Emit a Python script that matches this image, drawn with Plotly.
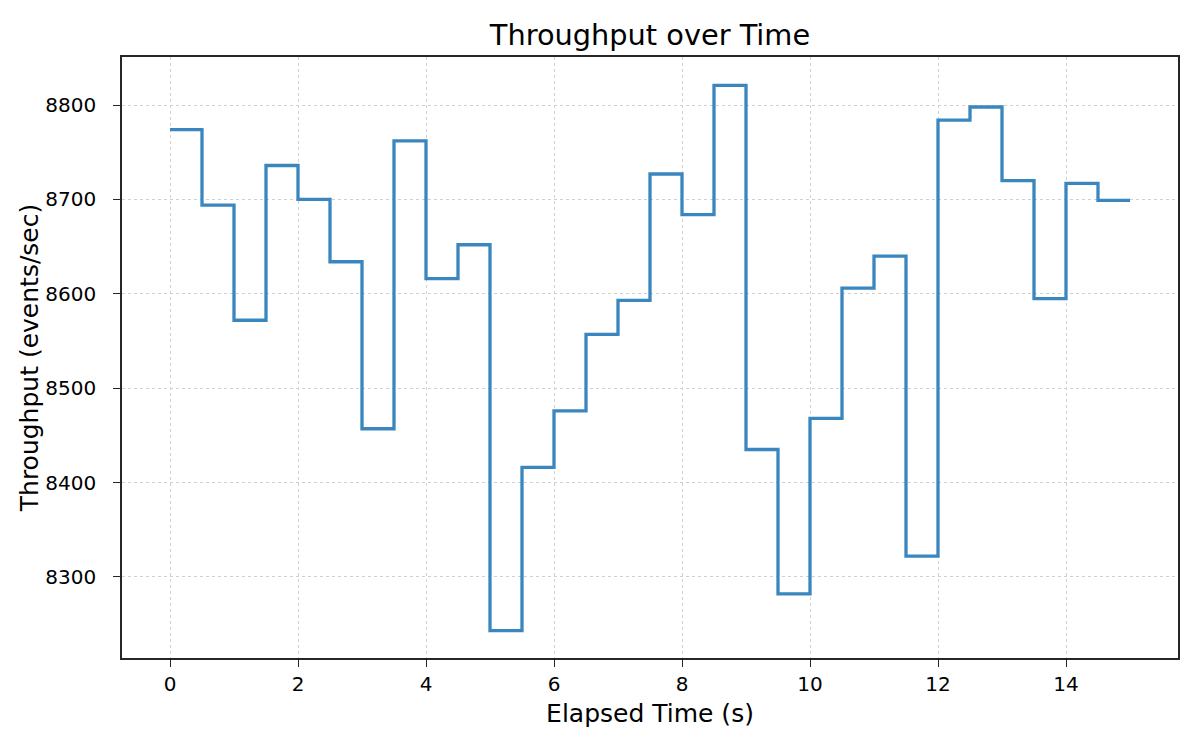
import plotly.graph_objects as go

elapsed_time = [0.0, 0.5, 1.0, 1.5, 2.0, 2.5, 3.0, 3.5, 4.0, 4.5,
                5.0, 5.5, 6.0, 6.5, 7.0, 7.5, 8.0, 8.5, 9.0, 9.5,
                10.0, 10.5, 11.0, 11.5, 12.0, 12.5, 13.0, 13.5, 14.0, 14.5, 15.0]
throughput = [8774, 8694, 8572, 8736, 8700, 8634, 8457, 8762, 8616, 8652,
              8243, 8416, 8476, 8557, 8593, 8727, 8684, 8821, 8435, 8282,
              8468, 8606, 8640, 8322, 8784, 8798, 8720, 8595, 8717, 8699, 8699]
x_ticks = [0, 2, 4, 6, 8, 10, 12, 14]
y_ticks = [8300, 8400, 8500, 8600, 8700, 8800]

FONT = "DejaVu Sans"

fig = go.Figure()
fig.add_trace(go.Scatter(
    x=elapsed_time, y=throughput, mode="lines",
    line=dict(shape="hv", color="#3a87bf", width=3.3),
    showlegend=False, hoverinfo="x+y",
))

axis_common = dict(
    showline=True, linecolor="#262626", linewidth=1.6, mirror=True,
    ticks="outside", ticklen=7, tickwidth=1.4, tickcolor="#262626",
    showgrid=True, gridcolor="#d0d0d0", gridwidth=1, griddash="dot",
    zeroline=False,
    tickfont=dict(family=FONT, size=20, color="#000000"),
)

W, H = 1192, 742  # page body margin of 8px offsets the figure

fig.update_layout(
    width=W, height=H,
    margin=dict(l=114, r=22, t=49, b=92),
    paper_bgcolor="white", plot_bgcolor="white",
    font=dict(family=FONT, color="#000000"),
    title=dict(text="Throughput over Time", x=0.5, xref="paper", xanchor="center",
               y=1 - 27 / H, yref="container", yanchor="middle",
               font=dict(family=FONT, size=28.8, color="#000000")),
    xaxis=dict(range=[-0.75, 15.75], tickvals=x_ticks,
               ticktext=[str(v) for v in x_ticks],
               title=dict(text="Elapsed Time (s)", standoff=10,
                          font=dict(family=FONT, size=25, color="#000000")),
               **axis_common),
    yaxis=dict(range=[8214, 8851], tickvals=y_ticks,
               ticktext=[str(v) for v in y_ticks],
               ticklabelstandoff=13,
               title=dict(text="Throughput (events/sec)", standoff=0,
                          font=dict(family=FONT, size=25, color="#000000")),
               **axis_common),
)

fig.write_html("out.html")
